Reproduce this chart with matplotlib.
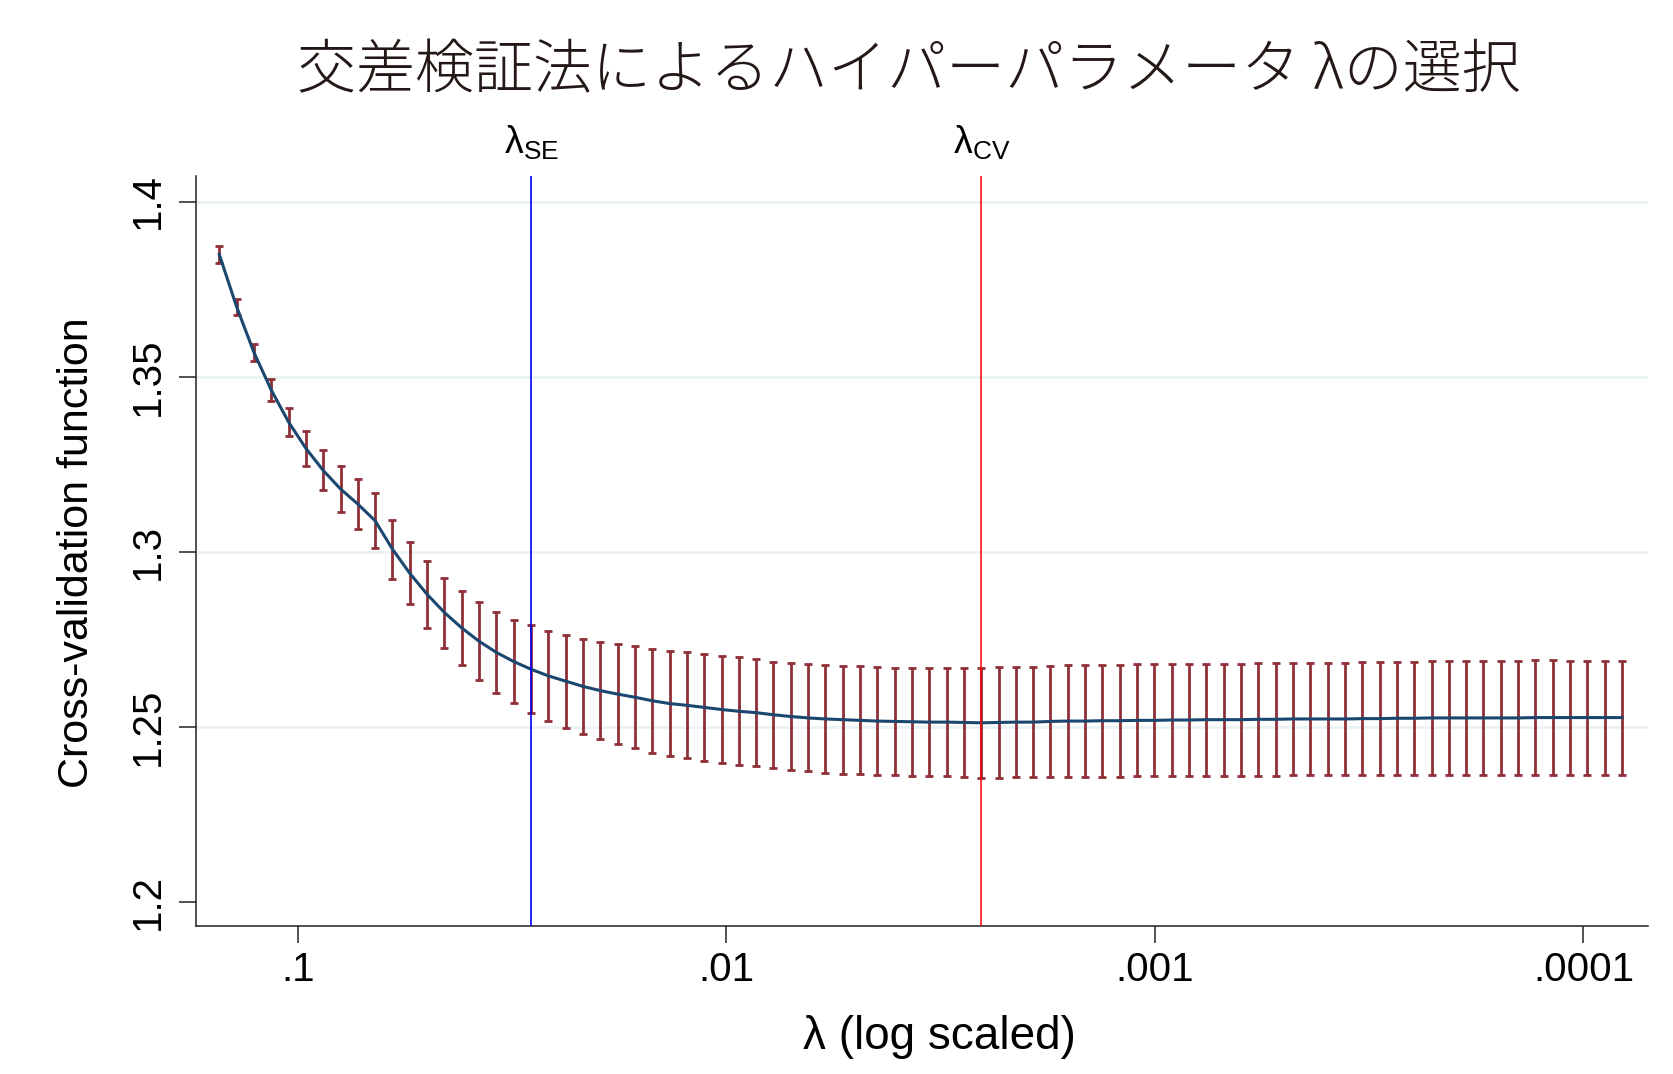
import numpy as np
import matplotlib
matplotlib.use("Agg")
import matplotlib.pyplot as plt

# ---------- data ----------
# lambda grid (log scaled x axis), 82 points
lambdas = [
    0.1524, 0.1388, 0.1265, 0.1153, 0.1050, 0.09570, 0.08720, 0.07945, 0.07239, 0.06596,
    0.06010, 0.05476, 0.04989, 0.04546, 0.04142, 0.03774, 0.03439, 0.03133, 0.02855, 0.02601,
    0.02370, 0.02159, 0.01968, 0.01793, 0.01633, 0.01488, 0.01356, 0.01236, 0.01126, 0.01026,
    0.009350, 0.008519, 0.007762, 0.007072, 0.006444, 0.005871, 0.005350, 0.004874, 0.004441, 0.004047,
    0.003687, 0.003360, 0.003061, 0.002789, 0.002541, 0.002316, 0.002110, 0.001922, 0.001752, 0.001596,
    0.001454, 0.001325, 0.001207, 0.001100, 0.001003, 0.0009135, 0.0008323, 0.0007584, 0.0006910, 0.0006296,
    0.0005737, 0.0005227, 0.0004763, 0.0004340, 0.0003954, 0.0003602, 0.0003282, 0.0002990, 0.0002725, 0.0002483,
    0.0002262, 0.0002061, 0.0001878, 0.0001711, 0.0001560, 0.0001421, 0.0001295, 0.0001180, 0.0001075, 0.00009795,
    0.00008925, 0.00008132,
]

# mean of the cross-validation function
cv_mean = [
    1.3849, 1.3699, 1.3569, 1.3462, 1.3370, 1.3295, 1.3232, 1.3179, 1.3136, 1.3088,
    1.3007, 1.2938, 1.2878, 1.2826, 1.2782, 1.2744, 1.2712, 1.2686, 1.2664, 1.2645,
    1.2630, 1.2615, 1.2603, 1.2593, 1.2584, 1.2574, 1.2566, 1.2561, 1.2555, 1.2549,
    1.2544, 1.2540, 1.2534, 1.2529, 1.2525, 1.2522, 1.2520, 1.2518, 1.2516, 1.2515,
    1.2514, 1.2513, 1.2513, 1.2512, 1.2511, 1.2512, 1.2513, 1.2513, 1.2515, 1.2516,
    1.2516, 1.2517, 1.2517, 1.2518, 1.2518, 1.2519, 1.2519, 1.2520, 1.2520, 1.2520,
    1.2521, 1.2521, 1.2522, 1.2522, 1.2522, 1.2522, 1.2523, 1.2523, 1.2524, 1.2524,
    1.2525, 1.2525, 1.2525, 1.2525, 1.2525, 1.2525, 1.2526, 1.2526, 1.2526, 1.2526,
    1.2526, 1.2526,
]

# standard errors (half length of each error bar)
cv_se = [
    0.0025, 0.0023, 0.0024, 0.0032, 0.0040, 0.0049, 0.0057, 0.0065, 0.0072, 0.0079,
    0.0084, 0.0089, 0.0095, 0.0100, 0.0105, 0.0111, 0.0115, 0.0119, 0.0125, 0.0128,
    0.0133, 0.0136, 0.0139, 0.0142, 0.0146, 0.0148, 0.0150, 0.0151, 0.0153, 0.0153,
    0.0154, 0.0153, 0.0152, 0.0152, 0.0153, 0.0153, 0.0154, 0.0154, 0.0154, 0.0154,
    0.0154, 0.0155, 0.0155, 0.0155, 0.0157, 0.0158, 0.0158, 0.0158, 0.0159, 0.0160,
    0.0160, 0.0160, 0.0160, 0.0160, 0.0160, 0.0160, 0.0160, 0.0160, 0.0160, 0.0160,
    0.0161, 0.0161, 0.0161, 0.0161, 0.0161, 0.0161, 0.0162, 0.0162, 0.0162, 0.0162,
    0.0163, 0.0163, 0.0163, 0.0163, 0.0163, 0.0163, 0.0164, 0.0164, 0.0163, 0.0163,
    0.0163, 0.0163,
]

lambda_se = 0.02855   # lambda chosen by the one-SE rule
lambda_cv = 0.002541  # lambda minimising the CV function

x_ticks = [0.1, 0.01, 0.001, 0.0001]
x_ticklabels = [".1", ".01", ".001", ".0001"]
y_ticks = [1.2, 1.25, 1.3, 1.35, 1.4]
y_ticklabels = ["1.2", "1.25", "1.3", "1.35", "1.4"]
y_gridlines = [1.25, 1.3, 1.35, 1.4]

title = "交差検証法によるハイパーパラメータ λの選択"

# ---------- style ----------
plt.rcParams['font.family'] = ['Liberation Sans', 'Noto Sans CJK JP', 'DejaVu Sans']
plt.rcParams['mathtext.fontset'] = 'custom'
plt.rcParams['mathtext.rm'] = 'Liberation Sans'
plt.rcParams['mathtext.it'] = 'Liberation Sans:italic'

NAVY = '#1a476f'
MAROON = '#8f3038'

W, H = 1673, 1074
fig = plt.figure(figsize=(W / 100, H / 100), dpi=100)
ax_left, ax_right, ax_top, ax_bottom = 196, 1648, 176, 926
ax = fig.add_axes([ax_left / W, 1 - ax_bottom / H, (ax_right - ax_left) / W, (ax_bottom - ax_top) / H])

for yg in y_gridlines:
    ax.axhline(yg, color='#eaf2f3', lw=2.0, zorder=0)

ax.errorbar(lambdas, cv_mean, yerr=cv_se, fmt='none', ecolor=MAROON,
            elinewidth=2.0, capsize=3.2, capthick=2.0, zorder=2)
ax.plot(lambdas, cv_mean, color=NAVY, lw=2.2, zorder=3)

ax.axvline(lambda_se, color='#0000ff', lw=1.2, zorder=4)
ax.axvline(lambda_cv, color='#ff0000', lw=1.1, zorder=4)

# labels above the reference lines
for lam, sub in [(lambda_se, 'SE'), (lambda_cv, 'CV')]:
    ax.annotate(r'$\mathrm{λ_{%s}}$' % sub, xy=(lam, 1.0),
                xycoords=('data', 'axes fraction'), xytext=(0, 16),
                textcoords='offset points', ha='center', va='baseline',
                fontsize=27, color='black')

ax.set_xscale('log')
ax.set_xlim(0.1727, 7.07e-5)
ax.set_ylim(1.19306, 1.4073)
ax.set_xticks(x_ticks)
ax.set_xticklabels(x_ticklabels)
ax.xaxis.set_minor_locator(matplotlib.ticker.NullLocator())
ax.set_yticks(y_ticks)
ax.set_yticklabels(y_ticklabels, rotation=90, va='center')

ax.tick_params(axis='both', direction='out', length=12, width=1.1, color='#222222', labelsize=29)
ax.tick_params(axis='x', pad=6)
ax.tick_params(axis='y', pad=9)

for side in ['top', 'right']:
    ax.spines[side].set_visible(False)
for side in ['left', 'bottom']:
    ax.spines[side].set_linewidth(1.1)
    ax.spines[side].set_color('#222222')

# axis titles and main title
fig.text(939 / W, 1 - 1037 / H, "λ (log scaled)", ha='center', va='center', fontsize=33)
fig.text(77 / W, 1 - 553 / H, "Cross-validation function", ha='center', va='center',
         rotation=90, fontsize=31)
fig.text(909 / W, 1 - 72 / H, title, ha='center', va='center', fontsize=42.5,
         family=['Noto Sans CJK JP', 'DejaVu Sans'], weight='light', color='#231815')

fig.savefig('out.png', dpi=100, facecolor='white')
